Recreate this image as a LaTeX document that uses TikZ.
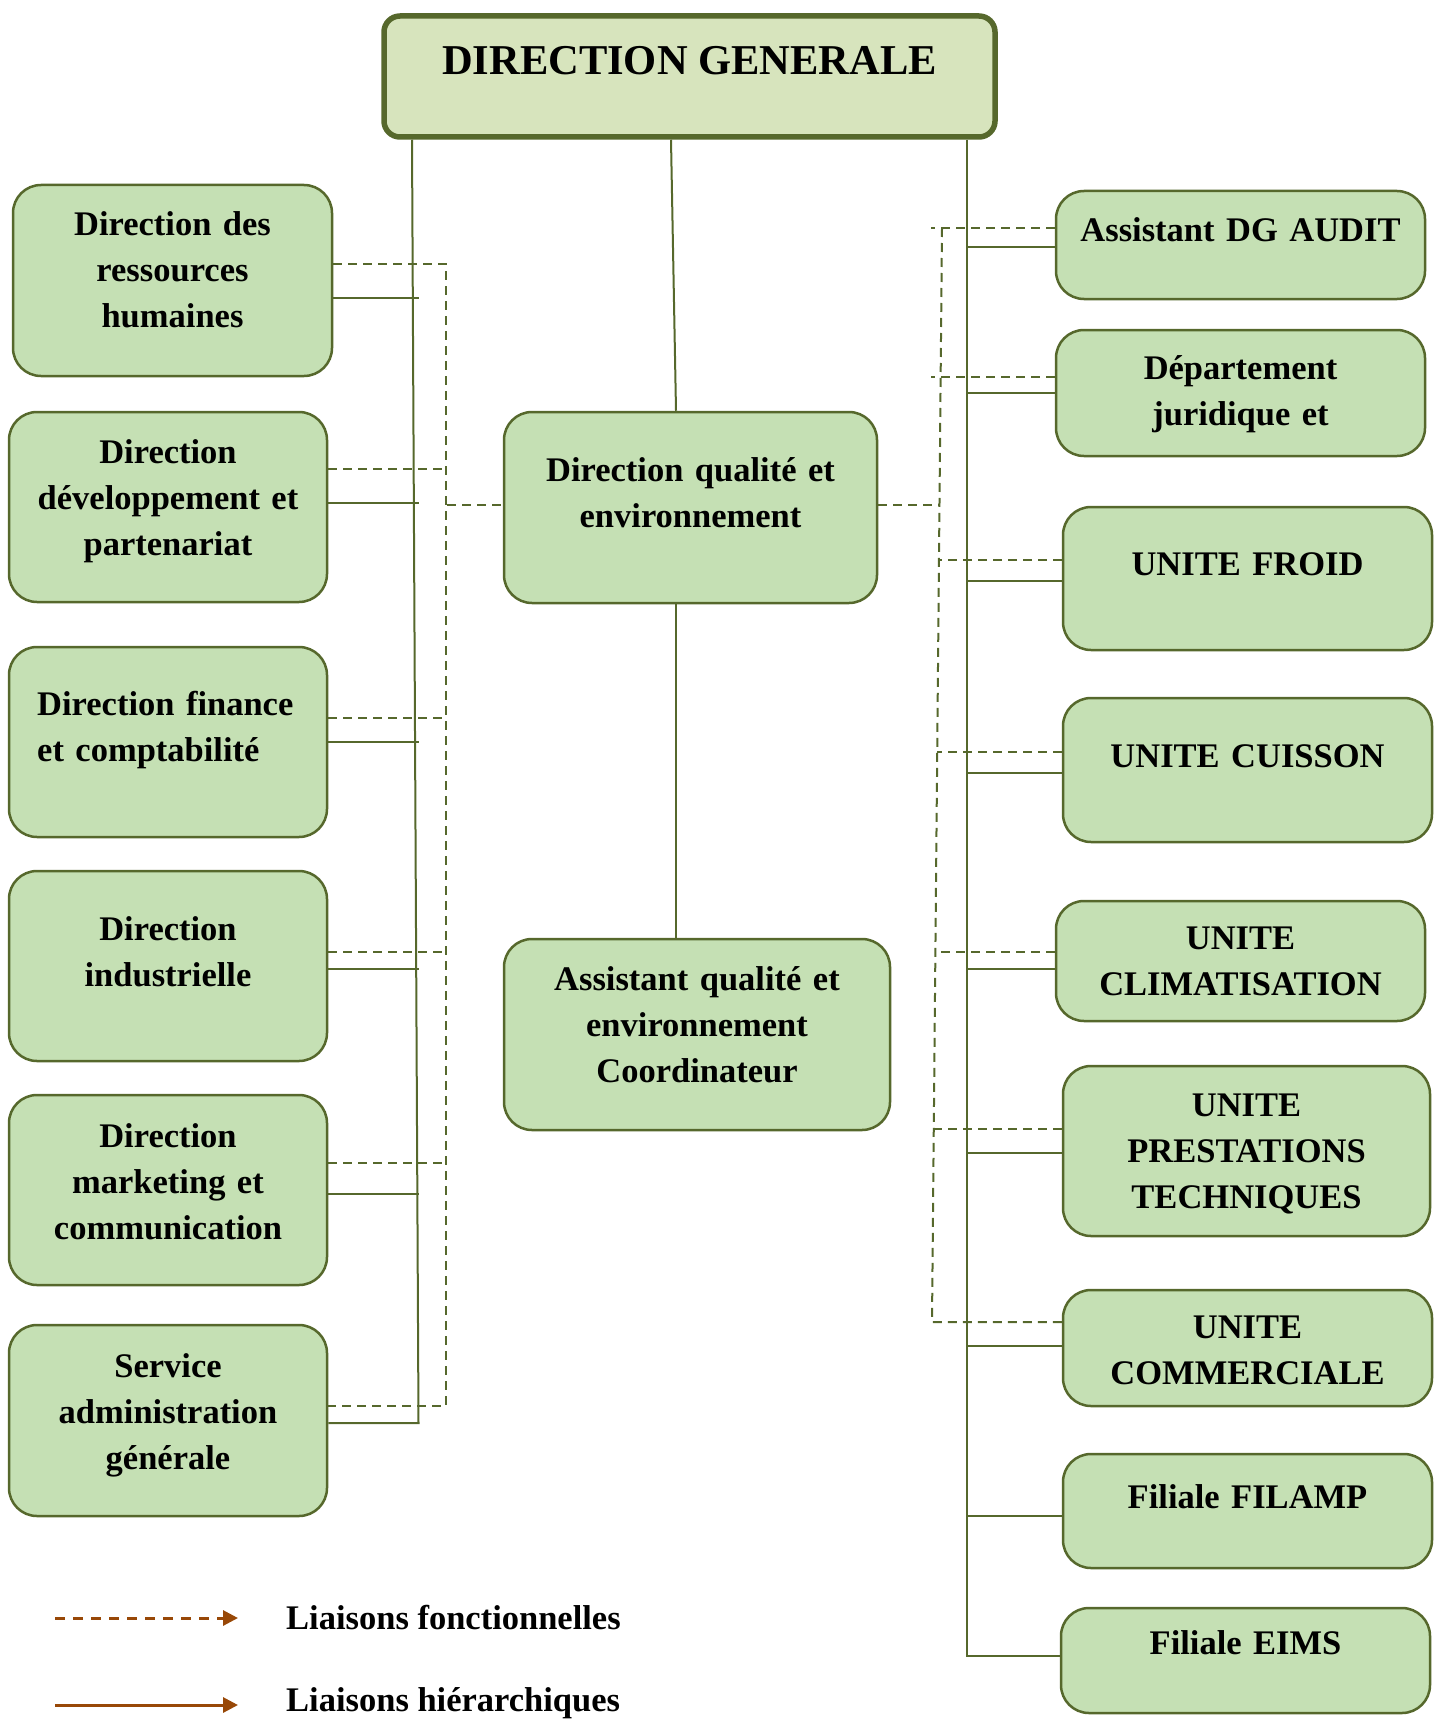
\documentclass[tikz,border=0pt]{standalone}
\usepackage{fontspec}
\setmainfont{Liberation Serif}
\usetikzlibrary{arrows.meta}
\definecolor{olivedark}{HTML}{56682C}
\definecolor{boxgreen}{HTML}{C5E0B4}
\definecolor{dggreen}{HTML}{D7E4BD}
\definecolor{legbrown}{HTML}{984807}
\begin{document}
\begin{tikzpicture}[x=1pt,y=-1pt,
  box/.style={draw=olivedark, line width=2.5pt, fill=boxgreen, rounded corners=28pt, inner sep=0pt},
  dgbox/.style={draw=olivedark, line width=5.5pt, fill=dggreen, rounded corners=16pt, inner sep=0pt},
  lbl/.style={anchor=base, inner sep=0pt, align=center, text width=#1, font=\fontsize{34.5}{46}\selectfont\bfseries},
  lbl/.default=340pt,
  legtext/.style={anchor=base west, inner sep=0pt, font=\fontsize{34.5}{46}\selectfont\bfseries},
  hier/.style={draw=olivedark, line width=2pt},
  func/.style={draw=olivedark, line width=2pt, dash pattern=on 9pt off 6pt},
  legline/.style={draw=legbrown, line width=3pt, -{Triangle[length=15pt,width=15pt]}},
]
\useasboundingbox (0,0) rectangle (1440,1720);

% ---------- top ----------
\node[dgbox, minimum width=611pt, minimum height=121pt] (dg) at (689.5,76.5) {};
\node[anchor=base, inner sep=0pt, font=\fontsize{42.5}{50}\selectfont\bfseries] (dgt) at (689.5,75) {DIRECTION GENERALE};

% ---------- left column ----------
\node[box, minimum width=319pt, minimum height=191pt] (l1) at (172.5,280.5) {};
\node[lbl] (l1t) at (172.5,236) {Direction des\\ressources\\humaines};
\node[box, minimum width=318pt, minimum height=190pt] (l2) at (168,507) {};
\node[lbl] (l2t) at (168,463) {Direction\\développement et\\partenariat};
\node[box, minimum width=318pt, minimum height=190pt] (l3) at (168,742) {};
\node[lbl=270pt, align=left, anchor=base west] (l3t) at (37,715.5) {Direction finance\\et comptabilité};
\node[box, minimum width=318pt, minimum height=190pt] (l4) at (168,966) {};
\node[lbl] (l4t) at (168,940) {Direction\\industrielle};
\node[box, minimum width=318pt, minimum height=190pt] (l5) at (168,1190) {};
\node[lbl] (l5t) at (168,1147.5) {Direction\\marketing et\\communication};
\node[box, minimum width=318pt, minimum height=191pt] (l6) at (168,1420.5) {};
\node[lbl] (l6t) at (168,1377) {Service\\administration\\générale};

% ---------- centre ----------
\node[box, minimum width=373pt, minimum height=191pt] (c1) at (690.5,507.5) {};
\node[lbl] (c1t) at (690.5,481) {Direction qualité et\\environnement};
\node[box, minimum width=386pt, minimum height=191pt] (c2) at (697,1034.5) {};
\node[lbl] (c2t) at (697,990) {Assistant qualité et\\environnement\\Coordinateur};

% ---------- right column ----------
\node[box, minimum width=369pt, minimum height=108pt] (r1) at (1240.5,245) {};
\node[lbl] (r1t) at (1240.5,242) {Assistant DG AUDIT};
\node[box, minimum width=369pt, minimum height=126pt] (r2) at (1240.5,393) {};
\node[lbl] (r2t) at (1240.5,379) {Département\\juridique et};
\node[box, minimum width=369pt, minimum height=143pt] (r3) at (1247.5,578.5) {};
\node[lbl] (r3t) at (1247.5,575) {UNITE FROID};
\node[box, minimum width=369pt, minimum height=144pt] (r4) at (1247.5,770) {};
\node[lbl] (r4t) at (1247.5,767) {UNITE CUISSON};
\node[box, minimum width=369pt, minimum height=120pt] (r5) at (1240.5,961) {};
\node[lbl] (r5t) at (1240.5,949) {UNITE\\CLIMATISATION};
\node[box, minimum width=367pt, minimum height=170pt] (r6) at (1246.5,1151) {};
\node[lbl] (r6t) at (1246.5,1116) {UNITE\\PRESTATIONS\\TECHNIQUES};
\node[box, minimum width=369pt, minimum height=116pt] (r7) at (1247.5,1348) {};
\node[lbl] (r7t) at (1247.5,1338.5) {UNITE\\COMMERCIALE};
\node[box, minimum width=369pt, minimum height=114pt] (r8) at (1247.5,1511) {};
\node[lbl] (r8t) at (1247.5,1508.5) {Filiale FILAMP};
\node[box, minimum width=369pt, minimum height=105pt] (r9) at (1245.5,1660.5) {};
\node[lbl] (r9t) at (1245.5,1654) {Filiale EIMS};

% ---------- hierarchical links (solid) ----------
\coordinate (LT) at (412,0);
\coordinate (LB) at (418.5,1423);
\draw[hier] (dg.south -| LT) -- (LB) -- (l6.east |- LB);
\foreach \n/\y in {l1/298, l2/503, l3/742, l4/969, l5/1194}{
  \coordinate (j\n) at (419,\y);
  \draw[hier] (\n.east |- j\n) -- (j\n);
}
\coordinate (RT) at (967,0);
\coordinate (RB) at (967,1656);
\draw[hier] (dg.south -| RT) -- (RB) -- (r9.west |- RB);
\foreach \n/\y in {r1/247, r2/393, r3/581, r4/773, r5/969, r6/1153, r7/1346, r8/1516}{
  \coordinate (j\n) at (967,\y);
  \draw[hier] (j\n) -- (\n.west |- j\n);
}
\coordinate (MA) at (671,0);
\coordinate (MB) at (676,0);
\draw[hier] (dg.south -| MA) -- (c1.north -| MB);
\draw[hier] (c1.south -| MB) -- (c2.north -| MB);

% ---------- functional links (dashed) ----------
\coordinate (DLT) at (446,264);
\coordinate (DLB) at (446,1406);
\draw[func] (l1.east |- DLT) -- (DLT) -- (DLB) -- (l6.east |- DLB);
\foreach \n/\y in {l2/469, l3/718, l4/952, l5/1163}{
  \coordinate (d\n) at (446,\y);
  \draw[func] (\n.east |- d\n) -- (d\n);
}
\coordinate (dc1l) at (447,505);
\draw[func] (dc1l) -- (c1.west |- dc1l);
\coordinate (dc1r) at (939.6,505);
\draw[func] (c1.east |- dc1r) -- (dc1r);

\coordinate (DRT) at (942,228);
\coordinate (DRB) at (932,1322);
\draw[func] (DRT) -- (DRB) -- (r7.west |- DRB);
\coordinate (dr1) at (931,228);
\draw[func] (r1.west |- dr1) -- (dr1);
\foreach \n/\x/\y in {r2/931/377, r3/939/560, r4/937.2/752, r5/935.4/952, r6/933.8/1129}{
  \coordinate (d\n) at (\x,\y);
  \draw[func] (\n.west |- d\n) -- (d\n);
}

% ---------- legend ----------
\coordinate (lf0) at (55,1618);
\coordinate (lf1) at (238,1618);
\draw[legline, dash pattern=on 10pt off 8pt] (lf0) -- (lf1);
\node[legtext] (lft) at (286,1629) {Liaisons fonctionnelles};
\coordinate (lh0) at (55,1705);
\coordinate (lh1) at (238,1705);
\draw[legline] (lh0) -- (lh1);
\node[legtext] (lht) at (286,1711) {Liaisons hiérarchiques};
\end{tikzpicture}
\end{document}
